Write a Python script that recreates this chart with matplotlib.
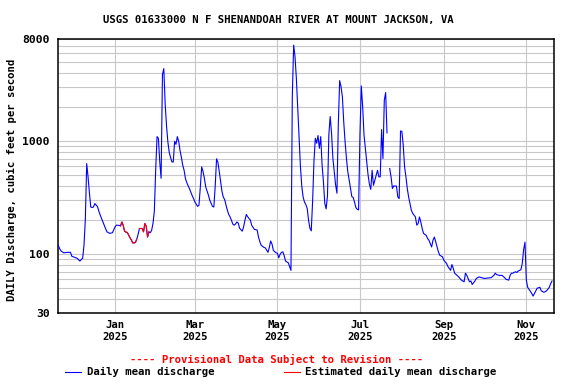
import numpy as np
import pandas as pd
import matplotlib
matplotlib.use("Agg")
import matplotlib.pyplot as plt
from matplotlib.lines import Line2D
from matplotlib.ticker import FixedLocator, NullFormatter

# daily mean discharge (cfs)
dates = [
    "2024-11-20", "2024-11-21", "2024-11-22", "2024-11-24", "2024-11-27", "2024-11-29", "2024-11-30",
    "2024-12-02", "2024-12-04", "2024-12-06", "2024-12-07", "2024-12-08", "2024-12-09", "2024-12-10",
    "2024-12-11", "2024-12-12", "2024-12-13", "2024-12-14", "2024-12-15", "2024-12-16", "2024-12-17",
    "2024-12-18", "2024-12-19", "2024-12-20", "2024-12-21", "2024-12-22", "2024-12-23", "2024-12-24",
    "2024-12-25", "2024-12-26", "2024-12-28", "2024-12-30", "2024-12-31",
    "2025-01-01", "2025-01-02", "2025-01-04", "2025-01-05", "2025-01-06", "2025-01-07", "2025-01-08",
    "2025-01-09", "2025-01-10", "2025-01-11", "2025-01-12", "2025-01-13", "2025-01-14", "2025-01-15",
    "2025-01-16", "2025-01-17", "2025-01-18", "2025-01-19", "2025-01-20", "2025-01-21", "2025-01-22",
    "2025-01-23", "2025-01-24", "2025-01-25", "2025-01-26", "2025-01-27", "2025-01-28", "2025-01-29",
    "2025-01-30", "2025-01-31",
    "2025-02-01", "2025-02-02", "2025-02-03", "2025-02-04", "2025-02-05", "2025-02-06", "2025-02-07",
    "2025-02-08", "2025-02-09", "2025-02-10", "2025-02-11", "2025-02-12", "2025-02-13", "2025-02-14",
    "2025-02-15", "2025-02-16", "2025-02-17", "2025-02-18", "2025-02-19", "2025-02-20", "2025-02-21",
    "2025-02-22", "2025-02-23", "2025-02-25", "2025-02-27", "2025-02-28",
    "2025-03-01", "2025-03-03", "2025-03-04", "2025-03-05", "2025-03-06", "2025-03-07", "2025-03-08",
    "2025-03-09", "2025-03-11", "2025-03-12", "2025-03-14", "2025-03-15", "2025-03-16", "2025-03-17",
    "2025-03-18", "2025-03-19", "2025-03-20", "2025-03-21", "2025-03-22", "2025-03-23", "2025-03-24",
    "2025-03-25", "2025-03-26", "2025-03-27", "2025-03-28", "2025-03-29", "2025-03-30", "2025-03-31",
    "2025-04-01", "2025-04-02", "2025-04-03", "2025-04-05", "2025-04-06", "2025-04-07", "2025-04-08",
    "2025-04-09", "2025-04-11", "2025-04-12", "2025-04-14", "2025-04-16", "2025-04-17", "2025-04-18",
    "2025-04-19", "2025-04-21", "2025-04-22", "2025-04-23", "2025-04-24", "2025-04-25", "2025-04-26",
    "2025-04-27", "2025-04-28", "2025-04-30",
    "2025-05-01", "2025-05-02", "2025-05-03", "2025-05-04", "2025-05-05", "2025-05-06", "2025-05-07",
    "2025-05-09", "2025-05-10", "2025-05-11", "2025-05-12", "2025-05-13", "2025-05-14", "2025-05-15",
    "2025-05-16", "2025-05-17", "2025-05-18", "2025-05-19", "2025-05-20", "2025-05-21", "2025-05-22",
    "2025-05-23", "2025-05-24", "2025-05-25", "2025-05-26", "2025-05-27", "2025-05-28", "2025-05-29",
    "2025-05-30", "2025-05-31",
    "2025-06-01", "2025-06-02", "2025-06-03", "2025-06-04", "2025-06-05", "2025-06-06", "2025-06-07",
    "2025-06-08", "2025-06-09", "2025-06-10", "2025-06-11", "2025-06-12", "2025-06-13", "2025-06-14",
    "2025-06-15", "2025-06-16", "2025-06-17", "2025-06-18", "2025-06-19", "2025-06-20", "2025-06-21",
    "2025-06-22", "2025-06-23", "2025-06-24", "2025-06-25", "2025-06-26", "2025-06-27", "2025-06-28",
    "2025-06-29", "2025-06-30",
    "2025-07-01", "2025-07-02", "2025-07-03", "2025-07-04", "2025-07-05", "2025-07-06", "2025-07-07",
    "2025-07-08", "2025-07-09", "2025-07-10", "2025-07-11", "2025-07-12", "2025-07-13", "2025-07-14",
    "2025-07-15", "2025-07-16", "2025-07-17", "2025-07-18", "2025-07-19", "2025-07-20", "2025-07-21",
    "2025-07-22", "2025-07-23", "2025-07-24", "2025-07-25", "2025-07-26", "2025-07-27", "2025-07-28",
    "2025-07-29", "2025-07-30", "2025-07-31",
    "2025-08-01", "2025-08-02", "2025-08-03", "2025-08-04", "2025-08-05", "2025-08-06", "2025-08-07",
    "2025-08-08", "2025-08-09", "2025-08-11", "2025-08-12", "2025-08-13", "2025-08-14", "2025-08-15",
    "2025-08-16", "2025-08-17", "2025-08-19", "2025-08-20", "2025-08-21", "2025-08-22", "2025-08-23",
    "2025-08-24", "2025-08-25", "2025-08-26", "2025-08-27", "2025-08-28", "2025-08-29", "2025-08-31",
    "2025-09-01", "2025-09-03", "2025-09-04", "2025-09-06", "2025-09-07", "2025-09-08", "2025-09-09",
    "2025-09-12", "2025-09-14", "2025-09-16", "2025-09-17", "2025-09-18", "2025-09-20", "2025-09-21",
    "2025-09-22", "2025-09-24", "2025-09-25", "2025-09-27", "2025-09-29",
    "2025-10-01", "2025-10-03", "2025-10-06", "2025-10-08", "2025-10-09", "2025-10-10", "2025-10-12",
    "2025-10-14", "2025-10-16", "2025-10-17", "2025-10-19", "2025-10-20", "2025-10-21", "2025-10-22",
    "2025-10-24", "2025-10-25", "2025-10-26", "2025-10-28", "2025-10-29", "2025-10-30", "2025-10-31",
    "2025-11-01", "2025-11-02", "2025-11-04", "2025-11-05", "2025-11-06", "2025-11-07", "2025-11-09",
    "2025-11-11", "2025-11-12", "2025-11-14", "2025-11-16", "2025-11-18", "2025-11-19", "2025-11-20",
]
flow = [
    120, 112, 107, 103, 104, 104, 96,
    94, 92, 87, 90, 92, 120, 204,
    635, 484, 350, 262, 259, 262, 281,
    272, 264, 240, 222, 207, 192, 181,
    168, 158, 153, 155, 165,
    175, 181, 180, 178, 193, 180, 160,
    157, 156, 148, 140, 134, 126, 126,
    127, 136, 150, 169, 169, 169, 158,
    187, 177, 142, 158, 155, 163, 187,
    240, 560,
    1100, 1060, 660, 470, 3900, 4400, 2150,
    1380, 990, 800, 720, 656, 656, 1000,
    940, 1100, 1000, 830, 720, 614, 554,
    468, 430, 380, 330, 311,
    290, 265, 272, 394, 593, 540, 470,
    394, 333, 300, 265, 262, 400, 700,
    650, 540, 440, 360, 320, 305, 272,
    245, 225, 214, 200, 185, 181, 185,
    193, 189, 170, 160, 175, 200, 225,
    215, 200, 180, 166, 164, 142, 129,
    120, 115, 114, 109, 104, 115, 131,
    123, 108, 103,
    102, 93, 100, 104, 105, 97, 87,
    84, 78, 72, 2500, 7100, 5600, 3600,
    2000, 1100, 600, 400, 320, 290, 275,
    255, 201, 170, 161, 293, 662, 1064,
    961, 1125,
    867, 1100, 618, 440, 283, 252, 330,
    1138, 1656, 1178, 708, 540, 411, 347,
    1396, 3445, 3050, 2490, 1496, 995, 708,
    540, 455, 384, 324, 318, 289, 259,
    250, 247,
    1138, 3090, 2030, 1138, 867, 662, 504,
    417, 375, 554, 408, 452, 500, 554,
    484, 484, 1270, 703, 2307, 2700, 1186,
    np.nan, 574, 484, 382, 403, 401, 401,
    321, 311, 1234,
    1225, 923, 593, 484, 382, 321, 281,
    245, 230, 214, 181, 187, 214, 193,
    169, 153, 147, 138, 133, 124, 116,
    133, 142, 129, 116, 105, 98, 95,
    88.5, 83, 78, 72, 81, 75, 68,
    63, 59, 57, 68, 65, 57, 58,
    54, 58, 61, 63, 62,
    61, 61.5, 62, 65, 68, 66, 65,
    65, 62, 60, 59, 65, 68, 68,
    70, 69, 71, 73, 83, 110, 128,
    59, 51, 47, 45, 42.6, 45, 50,
    51, 47.5, 46, 47.5, 51, 55, 58,
]
est_periods = [("2025-01-05", "2025-01-17"), ("2025-01-19", "2025-01-26")]

month_ticks = ["2025-01-01", "2025-03-01", "2025-05-01", "2025-07-01", "2025-09-01", "2025-11-01"]
month_labels = ["Jan\n2025", "Mar\n2025", "May\n2025", "Jul\n2025", "Sep\n2025", "Nov\n2025"]
y_ticks = [30, 100, 1000, 8000]
y_grid = [40, 50, 60, 70, 80, 90, 200, 300, 400, 500, 600, 700, 800, 900,
          2000, 3000, 4000, 5000, 6000, 7000]

t = pd.to_datetime(dates)
q = np.array(flow, dtype=float)

plt.rcParams["font.family"] = "DejaVu Sans Mono"
plt.rcParams["font.weight"] = "bold"

fig = plt.figure(figsize=(5.76, 3.84), dpi=100)
ax = fig.add_axes([0.1012, 0.1841, 0.8611, 0.7136])

ax.set_yscale("log")
ax.set_ylim(30, 8000)
ax.set_xlim(pd.Timestamp("2024-11-20"), pd.Timestamp("2025-11-21 16:00"))

ax.plot(t, q, color="#0000ff", lw=0.8, zorder=3)
for s, e in est_periods:
    m = (t >= pd.Timestamp(s)) & (t <= pd.Timestamp(e))
    ax.plot(t[m], q[m], color="#ff0000", lw=0.8, zorder=4)

ax.yaxis.set_major_locator(FixedLocator(y_ticks))
ax.set_yticklabels([str(v) for v in y_ticks])
ax.yaxis.set_minor_locator(FixedLocator(y_grid))
ax.yaxis.set_minor_formatter(NullFormatter())
ax.set_xticks(pd.to_datetime(month_ticks))
ax.set_xticklabels(month_labels)

ax.set_axisbelow(True)
ax.grid(which="both", color="#c8c8c8", lw=0.8)
ax.tick_params(which="both", length=0)
ax.tick_params(axis="y", labelsize=8.2, pad=6)
ax.tick_params(axis="x", labelsize=7.7, pad=5)
for sp in ax.spines.values():
    sp.set_linewidth(1.1)

fig.text(278 / 576, 1 - 20.5 / 384, "USGS 01633000 N F SHENANDOAH RIVER AT MOUNT JACKSON, VA",
         ha="center", va="center", fontsize=7.7)
fig.text(12 / 576, 1 - 180 / 384, "DAILY Discharge, cubic feet per second",
         ha="center", va="center", rotation=90, fontsize=7.7)
fig.text(277 / 576, 1 - 359 / 384, "---- Provisional Data Subject to Revision ----",
         ha="center", va="center", fontsize=7.7, color="#ff0000")

fig.add_artist(Line2D([65 / 576, 81 / 576], [1 - 372 / 384] * 2, color="#0000ff", lw=0.8))
fig.text(87 / 576, 1 - 372 / 384, "Daily mean discharge", ha="left", va="center", fontsize=7.7)
fig.add_artist(Line2D([284 / 576, 300 / 576], [1 - 372 / 384] * 2, color="#ff0000", lw=0.8))
fig.text(305 / 576, 1 - 372 / 384, "Estimated daily mean discharge", ha="left", va="center", fontsize=7.7)

fig.savefig("out.png", dpi=100)
